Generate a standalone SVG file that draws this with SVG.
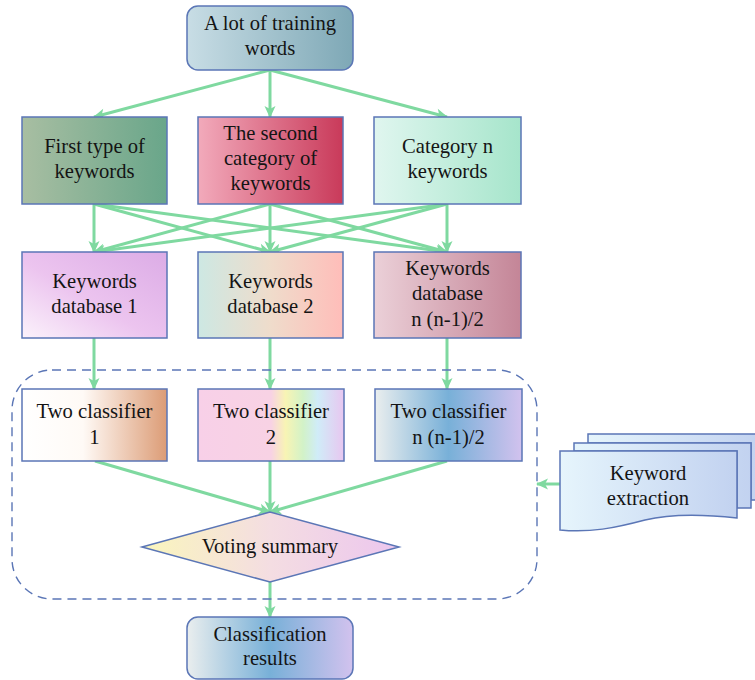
<svg xmlns="http://www.w3.org/2000/svg" width="755" height="680" viewBox="0 0 755 680">
<style>
.box{stroke:#5b76b6;stroke-width:1.5}
.t{font-family:"Liberation Serif","Times New Roman",serif;font-size:20.6px;fill:#141414;text-anchor:middle}
.c{stroke:#7fd9a0;stroke-width:3;fill:none;marker-end:url(#ah)}
</style>
<defs>
<marker id="ah" markerUnits="userSpaceOnUse" markerWidth="14" markerHeight="14" viewBox="0 0 14 14" refX="12" refY="7" orient="auto">
<path d="M1,1.5 L13,7 L1,12.5 L4,7 Z" fill="#7fd9a0"/>
</marker>
<linearGradient id="gTop"><stop offset="0" stop-color="#c8dde5"/><stop offset="1" stop-color="#7ea8b6"/></linearGradient>
<linearGradient id="g1"><stop offset="0" stop-color="#a8bea2"/><stop offset="1" stop-color="#69a68a"/></linearGradient>
<linearGradient id="g2"><stop offset="0" stop-color="#f2aabb"/><stop offset="1" stop-color="#c93a5a"/></linearGradient>
<linearGradient id="g3"><stop offset="0" stop-color="#e0f6ef"/><stop offset="1" stop-color="#a6e5cb"/></linearGradient>
<linearGradient id="g4" x1="0" y1="1" x2="1" y2="0"><stop offset="0" stop-color="#fbf2fb"/><stop offset="0.45" stop-color="#ecc4ef"/><stop offset="1" stop-color="#dcace6"/></linearGradient>
<linearGradient id="g5"><stop offset="0" stop-color="#cde8e3"/><stop offset="0.5" stop-color="#efdccb"/><stop offset="1" stop-color="#ffbdb9"/></linearGradient>
<linearGradient id="g6"><stop offset="0" stop-color="#ebd0d8"/><stop offset="1" stop-color="#c48597"/></linearGradient>
<linearGradient id="g7"><stop offset="0" stop-color="#ffffff"/><stop offset="0.42" stop-color="#fffaf6"/><stop offset="1" stop-color="#dc9c76"/></linearGradient>
<linearGradient id="g8"><stop offset="0" stop-color="#f8d0e8"/><stop offset="0.5" stop-color="#f8d2e4"/><stop offset="0.6" stop-color="#f8f4b4"/><stop offset="0.72" stop-color="#d2f2c8"/><stop offset="0.82" stop-color="#d0ecf8"/><stop offset="1" stop-color="#e8c6f0"/></linearGradient>
<linearGradient id="g9"><stop offset="0" stop-color="#eaeeee"/><stop offset="0.5" stop-color="#78b0d8"/><stop offset="1" stop-color="#d2c2ee"/></linearGradient>
<linearGradient id="gV"><stop offset="0" stop-color="#faf6bc"/><stop offset="0.5" stop-color="#f4dde2"/><stop offset="1" stop-color="#ecc6ee"/></linearGradient>
<linearGradient id="gD"><stop offset="0" stop-color="#e6f5fc"/><stop offset="1" stop-color="#c2d2f0"/></linearGradient>
</defs>

<g id="connectors">
<path class="c" d="M270,70 L94,117"/>
<path class="c" d="M270,70 L270,117"/>
<path class="c" d="M270,70 L447,117"/>
<path class="c" d="M94,204 L94,252"/>
<path class="c" d="M94,204 L270,252"/>
<path class="c" d="M94,204 L447,252"/>
<path class="c" d="M270,204 L94,252"/>
<path class="c" d="M270,204 L270,252"/>
<path class="c" d="M270,204 L447,252"/>
<path class="c" d="M447,204 L94,252"/>
<path class="c" d="M447,204 L270,252"/>
<path class="c" d="M447,204 L447,252"/>
<path class="c" d="M94,338 L94,389"/>
<path class="c" d="M270,338 L270,389"/>
<path class="c" d="M447,338 L447,389"/>
<path class="c" d="M95,461 L270,512"/>
<path class="c" d="M270,461 L270,512"/>
<path class="c" d="M447,461 L270,512"/>
<path class="c" d="M270,582 L270,617"/>
<path class="c" d="M560,484 L537,484"/>
</g>

<rect id="group-border" x="12" y="370" width="525" height="229" rx="40" fill="none" stroke="#5b76b6" stroke-width="1.4" stroke-dasharray="9,6"/>

<g id="n-top"><rect class="box" x="187" y="6" width="166" height="64" rx="11" fill="url(#gTop)"/>
<text class="t" x="270" y="30">A lot of training</text><text class="t" x="270" y="55">words</text></g>

<g id="n-first"><rect class="box" x="22" y="117" width="145" height="87" fill="url(#g1)"/>
<text class="t" x="94.5" y="153">First type of</text><text class="t" x="94.5" y="178">keywords</text></g>
<g id="n-second"><rect class="box" x="198" y="117" width="145" height="87" fill="url(#g2)"/>
<text class="t" x="270.5" y="140">The second</text><text class="t" x="270.5" y="165">category of</text><text class="t" x="270.5" y="190">keywords</text></g>
<g id="n-catn"><rect class="box" x="374" y="117" width="147" height="87" fill="url(#g3)"/>
<text class="t" x="447.5" y="153">Category n</text><text class="t" x="447.5" y="178">keywords</text></g>

<g id="n-db1"><rect class="box" x="22" y="252" width="145" height="86" fill="url(#g4)"/>
<text class="t" x="94.5" y="288">Keywords</text><text class="t" x="94.5" y="313">database 1</text></g>
<g id="n-db2"><rect class="box" x="198" y="252" width="145" height="86" fill="url(#g5)"/>
<text class="t" x="270.5" y="288">Keywords</text><text class="t" x="270.5" y="313">database 2</text></g>
<g id="n-dbn"><rect class="box" x="374" y="252" width="147" height="86" fill="url(#g6)"/>
<text class="t" x="447.5" y="275">Keywords</text><text class="t" x="447.5" y="300">database</text><text class="t" x="447.5" y="326">n (n-1)/2</text></g>

<g id="n-cl1"><rect class="box" x="22" y="389" width="145" height="72" fill="url(#g7)"/>
<text class="t" x="94.5" y="418">Two classifier</text><text class="t" x="94.5" y="444">1</text></g>
<g id="n-cl2"><rect class="box" x="198" y="389" width="146" height="72" fill="url(#g8)"/>
<text class="t" x="271" y="418">Two classifier</text><text class="t" x="271" y="444">2</text></g>
<g id="n-cln"><rect class="box" x="375" y="389" width="147" height="72" fill="url(#g9)"/>
<text class="t" x="448.5" y="418">Two classifier</text><text class="t" x="448.5" y="444">n (n-1)/2</text></g>

<g id="n-vote"><polygon class="box" points="142,547 270,512 399,547 270,582" fill="url(#gV)"/>
<text class="t" x="270" y="553">Voting summary</text></g>

<g id="n-result"><rect class="box" x="187" y="617" width="166" height="62" rx="11" fill="url(#g9)"/>
<text class="t" x="270" y="641">Classification</text><text class="t" x="270" y="665">results</text></g>

<g id="n-extract">
<path class="box" d="M588,434 H762 V500 H751 V443 H588 Z" fill="url(#gD)"/>
<path class="box" d="M574,443 H751 V508 H737 V451 H574 Z" fill="url(#gD)"/>
<path class="box" d="M560,451 H737 V518 C700,514 670,514 645,520 C615,528 590,533 560,530 Z" fill="url(#gD)"/>
<text class="t" x="648" y="480">Keyword</text><text class="t" x="648" y="505">extraction</text>
</g>
</svg>
